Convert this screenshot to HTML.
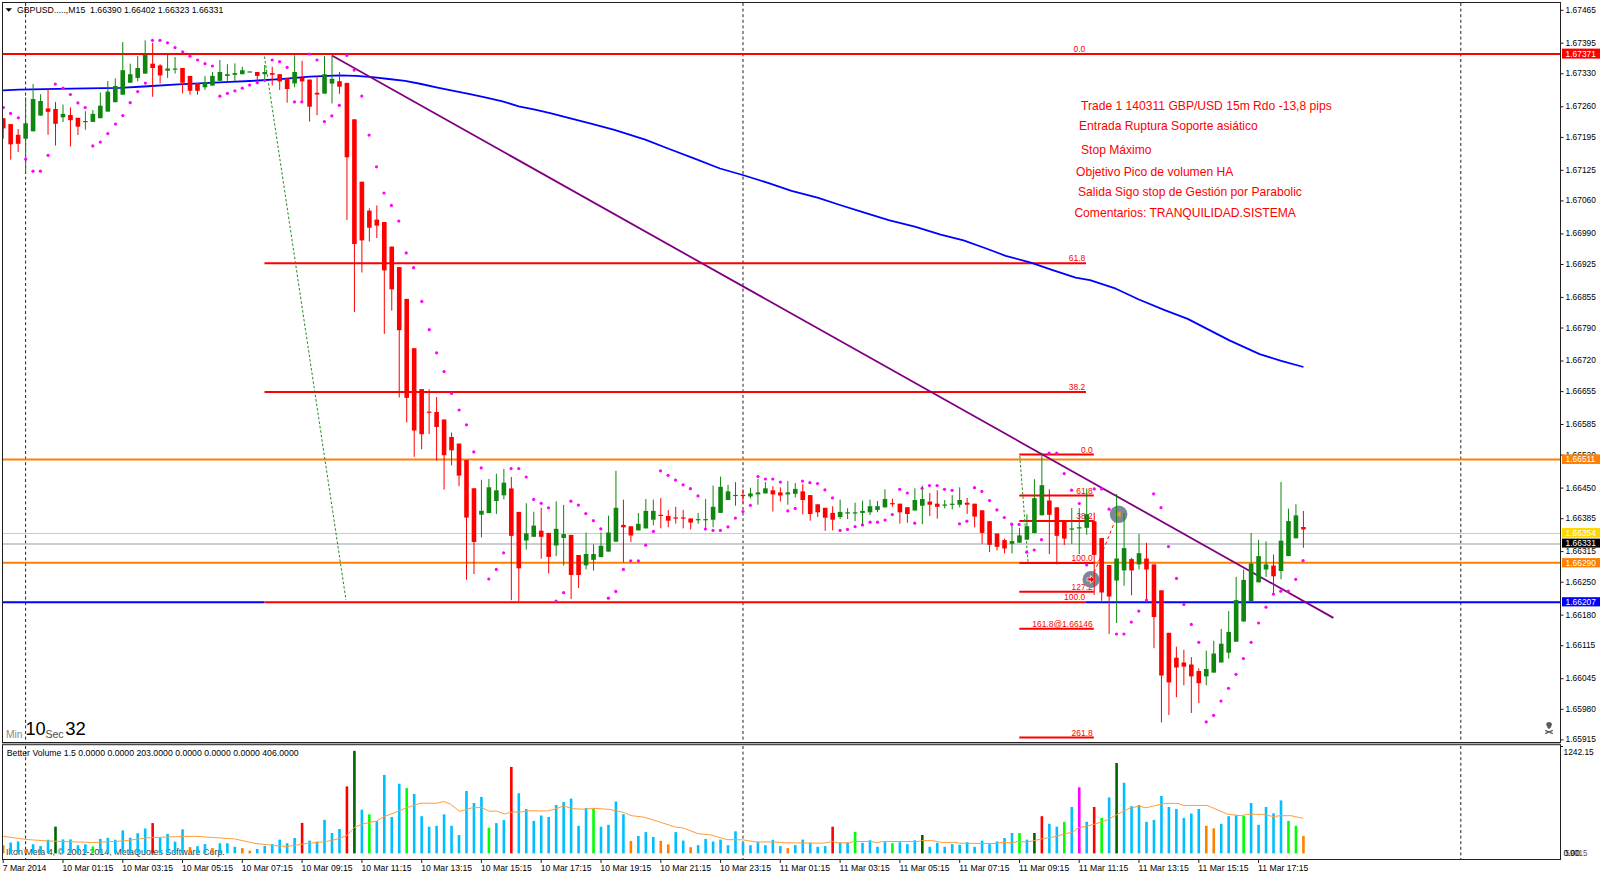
<!DOCTYPE html><html><head><meta charset="utf-8"><style>html,body{margin:0;padding:0;background:#fff;}svg{display:block}text{font-family:"Liberation Sans",sans-serif}</style></head><body>
<svg width="1600" height="876" viewBox="0 0 1600 876">
<rect x="0" y="0" width="1600" height="876" fill="#fff"/>
<defs><clipPath id="cm"><rect x="3" y="3" width="1557" height="739"/></clipPath><clipPath id="cv"><rect x="3" y="745" width="1557" height="114"/></clipPath></defs>
<line x1="25.6" y1="3" x2="25.6" y2="742" stroke="#222" stroke-width="1" stroke-dasharray="3,2.6"/>
<line x1="25.6" y1="746" x2="25.6" y2="859" stroke="#222" stroke-width="1" stroke-dasharray="3,2.6"/>
<line x1="743" y1="3" x2="743" y2="742" stroke="#222" stroke-width="1" stroke-dasharray="3,2.6"/>
<line x1="743" y1="746" x2="743" y2="859" stroke="#222" stroke-width="1" stroke-dasharray="3,2.6"/>
<line x1="1460.8" y1="3" x2="1460.8" y2="742" stroke="#222" stroke-width="1" stroke-dasharray="3,2.6"/>
<line x1="1460.8" y1="746" x2="1460.8" y2="859" stroke="#222" stroke-width="1" stroke-dasharray="3,2.6"/>
<g clip-path="url(#cm)">
<line x1="3" y1="54" x2="1560" y2="54" stroke="#ff0000" stroke-width="2"/>
<line x1="3" y1="459.5" x2="1560" y2="459.5" stroke="#ff8000" stroke-width="2"/>
<line x1="3" y1="533.5" x2="1560" y2="533.5" stroke="#ffd700" stroke-width="1.2"/>
<line x1="3" y1="544" x2="1560" y2="544" stroke="#b8bcc4" stroke-width="1.6"/>
<line x1="3" y1="562.8" x2="1560" y2="562.8" stroke="#ff8000" stroke-width="2"/>
<line x1="3" y1="602.2" x2="264.5" y2="602.2" stroke="#0000ff" stroke-width="2"/>
<line x1="1086" y1="602.2" x2="1560" y2="602.2" stroke="#0000ff" stroke-width="2"/>
<line x1="264.5" y1="54" x2="1086" y2="54" stroke="#ff0000" stroke-width="2"/>
<line x1="264.5" y1="263.3" x2="1086" y2="263.3" stroke="#ff0000" stroke-width="2"/>
<line x1="264.5" y1="392" x2="1086" y2="392" stroke="#ff0000" stroke-width="2"/>
<line x1="264.5" y1="602.2" x2="1086" y2="602.2" stroke="#ff0000" stroke-width="2"/>
<line x1="1019.3" y1="454.6" x2="1093.8" y2="454.6" stroke="#ff0000" stroke-width="2"/>
<line x1="1019.3" y1="495.6" x2="1093.8" y2="495.6" stroke="#ff0000" stroke-width="2"/>
<line x1="1019.3" y1="521" x2="1093.8" y2="521" stroke="#ff0000" stroke-width="2"/>
<line x1="1019.3" y1="563" x2="1093.8" y2="563" stroke="#ff0000" stroke-width="2"/>
<line x1="1019.3" y1="591.8" x2="1093.8" y2="591.8" stroke="#ff0000" stroke-width="2"/>
<line x1="1019.3" y1="628.8" x2="1093.8" y2="628.8" stroke="#ff0000" stroke-width="2"/>
<line x1="1019.3" y1="737.5" x2="1093.8" y2="737.5" stroke="#ff0000" stroke-width="2"/>
<line x1="264.5" y1="56.5" x2="346" y2="600" stroke="#1e8c1e" stroke-width="1" stroke-dasharray="2.5,2"/>
<line x1="1019.8" y1="456" x2="1028" y2="562" stroke="#1e8c1e" stroke-width="1" stroke-dasharray="2.5,2"/>
<polyline fill="none" stroke="#0000ff" stroke-width="1.8" stroke-linejoin="round" points="3,90.3 18.8,89.6 71,88.7 119.8,87.9 144,86.5 178,84.4 230,81.9 250,81 280,79.1 310,76.6 340,75.4 356.2,75.8 372.5,77.1 388.7,79 405,80.8 421.2,84 437.5,87.6 453.7,90.9 470,94.1 486.2,97.7 502.5,101.4 518.7,106.3 535,109.6 551.2,113.3 567.5,117.7 590,123.3 614.4,129.8 645.2,139.6 668,148.5 694,158.4 720,168.5 742.7,175 768.7,183.1 791.5,190.9 817.5,197.7 840,205 864.4,212.7 888.7,220.1 914.7,226.6 940.7,234.7 963.5,240.4 986.2,248.5 1005.7,255.8 1031.7,262.8 1051.2,269.6 1075.6,277.7 1090,280.1 1115.9,288.7 1138.9,299.5 1164.7,310.2 1187.7,318.9 1229.4,340.4 1259.6,354.1 1281.2,360.8 1303.5,367"/>
<line x1="331.9" y1="55.5" x2="1333.4" y2="617.9" stroke="#800080" stroke-width="1.8"/>
<text transform="translate(1085.30,52.20) scale(0.944,1)" font-size="9.0" fill="#ff0000" text-anchor="end" >0.0</text>
<text transform="translate(1085.30,261.30) scale(0.944,1)" font-size="9.0" fill="#ff0000" text-anchor="end" >61.8</text>
<text transform="translate(1085.30,390.30) scale(0.944,1)" font-size="9.0" fill="#ff0000" text-anchor="end" >38.2</text>
<text transform="translate(1085.30,600.30) scale(0.944,1)" font-size="9.0" fill="#ff0000" text-anchor="end" >100.0</text>
<text transform="translate(1092.80,452.80) scale(0.944,1)" font-size="9.0" fill="#ff0000" text-anchor="end" >0.0</text>
<text transform="translate(1092.80,493.80) scale(0.944,1)" font-size="9.0" fill="#ff0000" text-anchor="end" >61.8</text>
<text transform="translate(1092.80,518.80) scale(0.944,1)" font-size="9.0" fill="#ff0000" text-anchor="end" >38.2</text>
<text transform="translate(1092.80,561.30) scale(0.944,1)" font-size="9.0" fill="#ff0000" text-anchor="end" >100.0</text>
<text transform="translate(1092.80,589.80) scale(0.944,1)" font-size="9.0" fill="#ff0000" text-anchor="end" >127.2</text>
<text transform="translate(1092.80,626.80) scale(0.944,1)" font-size="9.0" fill="#ff0000" text-anchor="end" >161.8@1.66146</text>
<text transform="translate(1092.80,735.80) scale(0.944,1)" font-size="9.0" fill="#ff0000" text-anchor="end" >261.8</text>
<line x1="1092" y1="578" x2="1117" y2="516" stroke="#ff0000" stroke-width="1" stroke-dasharray="3,3"/>
<circle cx="1118.6" cy="514.2" r="8.8" fill="#7d8896"/>
<path d="M1115.6 514.2 L1120.6 510.8 L1120.6 517.6 Z" fill="#e0a020"/>
<circle cx="1091" cy="579.4" r="8.5" fill="#7d8896"/>
<path d="M1087 578 L1090.5 578 L1090.5 575.6 L1095 579.4 L1090.5 583.2 L1090.5 580.8 L1087 580.8 Z" fill="#ff0000" stroke="#fff" stroke-width="0.7"/>
<rect x="2.70" y="118.2" width="1" height="20.5" fill="#ff0000"/>
<rect x="0.90" y="118.2" width="4.6" height="10.2" fill="#ff0000"/>
<rect x="10.17" y="124.1" width="1" height="35.5" fill="#ff0000"/>
<rect x="8.37" y="124.1" width="4.6" height="20.2" fill="#ff0000"/>
<rect x="17.64" y="129.0" width="1" height="22.9" fill="#ff0000"/>
<rect x="15.84" y="134.8" width="4.6" height="9.0" fill="#ff0000"/>
<rect x="25.12" y="97.3" width="1" height="75.7" fill="#108510"/>
<rect x="23.32" y="123.3" width="4.6" height="15.4" fill="#108510"/>
<rect x="32.59" y="84.1" width="1" height="47.2" fill="#108510"/>
<rect x="30.79" y="99.0" width="4.6" height="32.3" fill="#108510"/>
<rect x="40.06" y="94.2" width="1" height="21.4" fill="#108510"/>
<rect x="38.26" y="101.0" width="4.6" height="14.6" fill="#108510"/>
<rect x="47.54" y="88.7" width="1" height="46.1" fill="#ff0000"/>
<rect x="45.74" y="108.4" width="4.6" height="3.4" fill="#ff0000"/>
<rect x="55.01" y="101.9" width="1" height="43.6" fill="#ff0000"/>
<rect x="53.21" y="109.0" width="4.6" height="14.8" fill="#ff0000"/>
<rect x="62.48" y="104.5" width="1" height="17.5" fill="#108510"/>
<rect x="60.68" y="113.9" width="4.6" height="3.4" fill="#108510"/>
<rect x="69.95" y="107.5" width="1" height="38.9" fill="#ff0000"/>
<rect x="68.15" y="115.0" width="4.6" height="5.2" fill="#ff0000"/>
<rect x="77.42" y="117.8" width="1" height="17.2" fill="#ff0000"/>
<rect x="75.62" y="117.8" width="4.6" height="8.9" fill="#ff0000"/>
<rect x="84.90" y="111.3" width="1" height="18.5" fill="#108510"/>
<rect x="83.10" y="121.0" width="4.6" height="1.2" fill="#108510"/>
<rect x="92.37" y="110.0" width="1" height="11.9" fill="#108510"/>
<rect x="90.57" y="113.9" width="4.6" height="8.0" fill="#108510"/>
<rect x="99.84" y="92.5" width="1" height="25.7" fill="#108510"/>
<rect x="98.04" y="105.7" width="4.6" height="12.5" fill="#108510"/>
<rect x="107.32" y="81.0" width="1" height="30.6" fill="#108510"/>
<rect x="105.52" y="91.6" width="4.6" height="20.0" fill="#108510"/>
<rect x="114.79" y="78.4" width="1" height="23.8" fill="#108510"/>
<rect x="112.99" y="86.0" width="4.6" height="16.2" fill="#108510"/>
<rect x="122.26" y="42.0" width="1" height="52.7" fill="#108510"/>
<rect x="120.46" y="70.2" width="4.6" height="24.5" fill="#108510"/>
<rect x="129.73" y="63.7" width="1" height="19.0" fill="#108510"/>
<rect x="127.93" y="74.2" width="4.6" height="8.5" fill="#108510"/>
<rect x="137.20" y="56.0" width="1" height="25.4" fill="#108510"/>
<rect x="135.40" y="68.0" width="4.6" height="9.9" fill="#108510"/>
<rect x="144.68" y="40.3" width="1" height="33.3" fill="#108510"/>
<rect x="142.88" y="54.8" width="4.6" height="18.8" fill="#108510"/>
<rect x="152.15" y="42.8" width="1" height="54.0" fill="#ff0000"/>
<rect x="150.35" y="63.7" width="4.6" height="4.3" fill="#ff0000"/>
<rect x="159.62" y="64.2" width="1" height="19.2" fill="#ff0000"/>
<rect x="157.82" y="65.4" width="4.6" height="10.0" fill="#ff0000"/>
<rect x="167.09" y="54.8" width="1" height="23.1" fill="#108510"/>
<rect x="165.29" y="68.5" width="4.6" height="2.2" fill="#108510"/>
<rect x="174.57" y="57.0" width="1" height="16.6" fill="#108510"/>
<rect x="172.77" y="68.5" width="4.6" height="1.2" fill="#108510"/>
<rect x="182.04" y="68.0" width="1" height="25.3" fill="#ff0000"/>
<rect x="180.24" y="68.0" width="4.6" height="14.7" fill="#ff0000"/>
<rect x="189.51" y="75.9" width="1" height="18.8" fill="#ff0000"/>
<rect x="187.71" y="75.9" width="4.6" height="14.9" fill="#ff0000"/>
<rect x="196.98" y="83.1" width="1" height="11.6" fill="#ff0000"/>
<rect x="195.18" y="83.1" width="4.6" height="7.7" fill="#ff0000"/>
<rect x="204.46" y="75.9" width="1" height="14.0" fill="#108510"/>
<rect x="202.66" y="82.2" width="4.6" height="5.1" fill="#108510"/>
<rect x="211.93" y="72.0" width="1" height="13.6" fill="#108510"/>
<rect x="210.13" y="75.9" width="4.6" height="9.7" fill="#108510"/>
<rect x="219.40" y="60.0" width="1" height="20.8" fill="#108510"/>
<rect x="217.60" y="72.0" width="4.6" height="8.8" fill="#108510"/>
<rect x="226.88" y="64.2" width="1" height="16.6" fill="#108510"/>
<rect x="225.07" y="74.2" width="4.6" height="1.7" fill="#108510"/>
<rect x="234.35" y="63.4" width="1" height="17.4" fill="#108510"/>
<rect x="232.55" y="73.1" width="4.6" height="1.7" fill="#108510"/>
<rect x="241.82" y="66.8" width="1" height="7.4" fill="#108510"/>
<rect x="240.02" y="70.2" width="4.6" height="4.0" fill="#108510"/>
<rect x="247.49" y="71.4" width="4.6" height="1.2" fill="#108510"/>
<rect x="256.76" y="72.0" width="1" height="9.4" fill="#ff0000"/>
<rect x="254.96" y="72.0" width="4.6" height="3.9" fill="#ff0000"/>
<rect x="264.24" y="65.0" width="1" height="16.4" fill="#108510"/>
<rect x="262.44" y="72.0" width="4.6" height="2.2" fill="#108510"/>
<rect x="271.71" y="66.8" width="1" height="18.8" fill="#ff0000"/>
<rect x="269.91" y="73.1" width="4.6" height="1.7" fill="#ff0000"/>
<rect x="279.18" y="74.2" width="1" height="15.7" fill="#ff0000"/>
<rect x="277.38" y="74.2" width="4.6" height="7.2" fill="#ff0000"/>
<rect x="286.65" y="78.3" width="1" height="24.4" fill="#ff0000"/>
<rect x="284.85" y="78.3" width="4.6" height="10.7" fill="#ff0000"/>
<rect x="294.13" y="55.3" width="1" height="32.0" fill="#108510"/>
<rect x="292.33" y="72.0" width="4.6" height="11.4" fill="#108510"/>
<rect x="301.60" y="60.8" width="1" height="41.1" fill="#ff0000"/>
<rect x="299.80" y="77.9" width="4.6" height="3.5" fill="#ff0000"/>
<rect x="309.07" y="79.6" width="1" height="42.0" fill="#ff0000"/>
<rect x="307.27" y="79.6" width="4.6" height="27.1" fill="#ff0000"/>
<rect x="316.55" y="75.9" width="1" height="39.3" fill="#ff0000"/>
<rect x="314.75" y="92.8" width="4.6" height="1.7" fill="#ff0000"/>
<rect x="324.02" y="56.0" width="1" height="37.6" fill="#108510"/>
<rect x="322.22" y="74.2" width="4.6" height="19.4" fill="#108510"/>
<rect x="331.49" y="55.5" width="1" height="47.9" fill="#108510"/>
<rect x="329.69" y="78.8" width="4.6" height="4.8" fill="#108510"/>
<rect x="338.96" y="71.9" width="1" height="21.9" fill="#ff0000"/>
<rect x="337.16" y="81.2" width="4.6" height="5.5" fill="#ff0000"/>
<rect x="346.44" y="82.9" width="1" height="137.1" fill="#ff0000"/>
<rect x="344.63" y="82.9" width="4.6" height="74.4" fill="#ff0000"/>
<rect x="353.91" y="119.3" width="1" height="192.7" fill="#ff0000"/>
<rect x="352.11" y="119.3" width="4.6" height="124.7" fill="#ff0000"/>
<rect x="361.38" y="181.7" width="1" height="90.8" fill="#ff0000"/>
<rect x="359.58" y="181.7" width="4.6" height="58.7" fill="#ff0000"/>
<rect x="368.85" y="208.4" width="1" height="33.2" fill="#ff0000"/>
<rect x="367.05" y="210.7" width="4.6" height="17.0" fill="#ff0000"/>
<rect x="376.32" y="205.4" width="1" height="32.6" fill="#ff0000"/>
<rect x="374.52" y="219.6" width="4.6" height="6.0" fill="#ff0000"/>
<rect x="383.80" y="222.0" width="1" height="111.9" fill="#ff0000"/>
<rect x="382.00" y="222.0" width="4.6" height="48.4" fill="#ff0000"/>
<rect x="391.27" y="246.6" width="1" height="64.1" fill="#ff0000"/>
<rect x="389.47" y="246.6" width="4.6" height="42.7" fill="#ff0000"/>
<rect x="398.74" y="267.1" width="1" height="130.3" fill="#ff0000"/>
<rect x="396.94" y="267.1" width="4.6" height="63.1" fill="#ff0000"/>
<rect x="406.21" y="298.9" width="1" height="123.5" fill="#ff0000"/>
<rect x="404.41" y="298.9" width="4.6" height="99.0" fill="#ff0000"/>
<rect x="413.69" y="348.2" width="1" height="108.6" fill="#ff0000"/>
<rect x="411.89" y="348.2" width="4.6" height="82.3" fill="#ff0000"/>
<rect x="421.16" y="389.1" width="1" height="60.1" fill="#ff0000"/>
<rect x="419.36" y="389.1" width="4.6" height="45.1" fill="#ff0000"/>
<rect x="428.63" y="389.3" width="1" height="44.7" fill="#ff0000"/>
<rect x="426.83" y="411.6" width="4.6" height="1.2" fill="#ff0000"/>
<rect x="436.11" y="397.0" width="1" height="63.6" fill="#ff0000"/>
<rect x="434.31" y="412.0" width="4.6" height="15.0" fill="#ff0000"/>
<rect x="443.58" y="419.5" width="1" height="70.1" fill="#ff0000"/>
<rect x="441.78" y="419.5" width="4.6" height="35.7" fill="#ff0000"/>
<rect x="451.05" y="432.6" width="1" height="32.8" fill="#ff0000"/>
<rect x="449.25" y="437.0" width="4.6" height="13.3" fill="#ff0000"/>
<rect x="458.52" y="443.6" width="1" height="42.6" fill="#ff0000"/>
<rect x="456.72" y="443.6" width="4.6" height="32.0" fill="#ff0000"/>
<rect x="466.00" y="460.0" width="1" height="119.7" fill="#ff0000"/>
<rect x="464.19" y="460.0" width="4.6" height="57.6" fill="#ff0000"/>
<rect x="473.47" y="488.3" width="1" height="85.7" fill="#ff0000"/>
<rect x="471.67" y="488.3" width="4.6" height="53.7" fill="#ff0000"/>
<rect x="480.94" y="479.8" width="1" height="57.7" fill="#108510"/>
<rect x="479.14" y="510.8" width="4.6" height="3.9" fill="#108510"/>
<rect x="488.41" y="478.9" width="1" height="34.2" fill="#108510"/>
<rect x="486.61" y="487.3" width="4.6" height="25.8" fill="#108510"/>
<rect x="495.88" y="473.6" width="1" height="40.4" fill="#108510"/>
<rect x="494.08" y="490.3" width="4.6" height="10.7" fill="#108510"/>
<rect x="503.36" y="469.0" width="1" height="30.4" fill="#108510"/>
<rect x="501.56" y="482.7" width="4.6" height="12.6" fill="#108510"/>
<rect x="510.83" y="477.0" width="1" height="123.2" fill="#ff0000"/>
<rect x="509.03" y="488.4" width="4.6" height="47.5" fill="#ff0000"/>
<rect x="518.30" y="511.9" width="1" height="89.5" fill="#ff0000"/>
<rect x="516.50" y="511.9" width="4.6" height="56.4" fill="#ff0000"/>
<rect x="525.78" y="503.3" width="1" height="46.3" fill="#108510"/>
<rect x="523.98" y="533.4" width="4.6" height="7.1" fill="#108510"/>
<rect x="533.25" y="511.7" width="1" height="25.1" fill="#108510"/>
<rect x="531.45" y="525.6" width="4.6" height="11.2" fill="#108510"/>
<rect x="540.72" y="507.8" width="1" height="50.9" fill="#ff0000"/>
<rect x="538.92" y="530.7" width="4.6" height="6.1" fill="#ff0000"/>
<rect x="548.19" y="532.9" width="1" height="40.6" fill="#ff0000"/>
<rect x="546.39" y="532.9" width="4.6" height="24.0" fill="#ff0000"/>
<rect x="555.67" y="501.5" width="1" height="54.7" fill="#108510"/>
<rect x="553.87" y="528.8" width="4.6" height="16.7" fill="#108510"/>
<rect x="563.14" y="504.9" width="1" height="60.7" fill="#108510"/>
<rect x="561.34" y="534.1" width="4.6" height="3.9" fill="#108510"/>
<rect x="570.61" y="534.9" width="1" height="64.3" fill="#ff0000"/>
<rect x="568.81" y="534.9" width="4.6" height="40.1" fill="#ff0000"/>
<rect x="578.08" y="555.0" width="1" height="32.9" fill="#ff0000"/>
<rect x="576.28" y="555.0" width="4.6" height="20.0" fill="#ff0000"/>
<rect x="585.56" y="532.5" width="1" height="36.9" fill="#108510"/>
<rect x="583.76" y="554.0" width="4.6" height="11.3" fill="#108510"/>
<rect x="593.03" y="544.4" width="1" height="26.1" fill="#108510"/>
<rect x="591.23" y="554.0" width="4.6" height="5.8" fill="#108510"/>
<rect x="600.50" y="532.5" width="1" height="24.6" fill="#108510"/>
<rect x="598.70" y="545.8" width="4.6" height="11.3" fill="#108510"/>
<rect x="607.97" y="515.6" width="1" height="36.0" fill="#108510"/>
<rect x="606.17" y="532.5" width="4.6" height="19.1" fill="#108510"/>
<rect x="615.45" y="470.8" width="1" height="70.9" fill="#108510"/>
<rect x="613.65" y="507.8" width="4.6" height="33.9" fill="#108510"/>
<rect x="622.92" y="499.6" width="1" height="62.7" fill="#ff0000"/>
<rect x="621.12" y="524.9" width="4.6" height="2.4" fill="#ff0000"/>
<rect x="630.39" y="526.3" width="1" height="15.8" fill="#ff0000"/>
<rect x="628.59" y="526.3" width="4.6" height="9.2" fill="#ff0000"/>
<rect x="637.86" y="513.0" width="1" height="17.4" fill="#108510"/>
<rect x="636.06" y="523.8" width="4.6" height="6.6" fill="#108510"/>
<rect x="645.34" y="499.0" width="1" height="29.4" fill="#108510"/>
<rect x="643.54" y="510.9" width="4.6" height="17.5" fill="#108510"/>
<rect x="652.81" y="499.6" width="1" height="25.7" fill="#108510"/>
<rect x="651.01" y="510.9" width="4.6" height="8.8" fill="#108510"/>
<rect x="660.28" y="498.1" width="1" height="30.3" fill="#ff0000"/>
<rect x="658.48" y="514.8" width="4.6" height="1.2" fill="#ff0000"/>
<rect x="667.75" y="509.9" width="1" height="17.4" fill="#ff0000"/>
<rect x="665.95" y="516.0" width="4.6" height="4.7" fill="#ff0000"/>
<rect x="675.23" y="506.8" width="1" height="16.8" fill="#ff0000"/>
<rect x="673.43" y="517.4" width="4.6" height="1.2" fill="#ff0000"/>
<rect x="682.70" y="509.9" width="1" height="18.5" fill="#ff0000"/>
<rect x="680.90" y="517.4" width="4.6" height="1.2" fill="#ff0000"/>
<rect x="690.17" y="518.5" width="1" height="10.9" fill="#ff0000"/>
<rect x="688.37" y="518.5" width="4.6" height="4.1" fill="#ff0000"/>
<rect x="697.64" y="512.9" width="1" height="10.9" fill="#108510"/>
<rect x="695.84" y="519.1" width="4.6" height="1.2" fill="#108510"/>
<rect x="705.12" y="499.0" width="1" height="31.4" fill="#108510"/>
<rect x="703.32" y="519.1" width="4.6" height="1.2" fill="#108510"/>
<rect x="712.59" y="485.6" width="1" height="41.7" fill="#108510"/>
<rect x="710.79" y="506.8" width="4.6" height="12.9" fill="#108510"/>
<rect x="720.06" y="476.6" width="1" height="36.3" fill="#108510"/>
<rect x="718.26" y="486.8" width="4.6" height="26.1" fill="#108510"/>
<rect x="727.53" y="484.8" width="1" height="15.2" fill="#108510"/>
<rect x="725.73" y="491.4" width="4.6" height="8.6" fill="#108510"/>
<rect x="735.01" y="482.1" width="1" height="23.6" fill="#108510"/>
<rect x="733.21" y="494.9" width="4.6" height="1.2" fill="#108510"/>
<rect x="742.48" y="489.3" width="1" height="14.4" fill="#ff0000"/>
<rect x="740.68" y="494.9" width="4.6" height="1.2" fill="#ff0000"/>
<rect x="749.95" y="487.7" width="1" height="10.9" fill="#108510"/>
<rect x="748.15" y="493.4" width="4.6" height="3.1" fill="#108510"/>
<rect x="757.42" y="479.0" width="1" height="25.7" fill="#108510"/>
<rect x="755.62" y="492.4" width="4.6" height="2.0" fill="#108510"/>
<rect x="764.90" y="482.1" width="1" height="11.3" fill="#108510"/>
<rect x="763.10" y="488.3" width="4.6" height="5.1" fill="#108510"/>
<rect x="772.37" y="486.2" width="1" height="25.3" fill="#ff0000"/>
<rect x="770.57" y="490.3" width="4.6" height="4.1" fill="#ff0000"/>
<rect x="779.84" y="487.3" width="1" height="14.3" fill="#ff0000"/>
<rect x="778.04" y="492.4" width="4.6" height="3.1" fill="#ff0000"/>
<rect x="787.31" y="481.1" width="1" height="23.6" fill="#108510"/>
<rect x="785.51" y="492.4" width="4.6" height="2.0" fill="#108510"/>
<rect x="794.79" y="483.1" width="1" height="14.4" fill="#108510"/>
<rect x="792.99" y="488.9" width="4.6" height="4.9" fill="#108510"/>
<rect x="802.26" y="484.2" width="1" height="30.2" fill="#ff0000"/>
<rect x="800.46" y="491.4" width="4.6" height="8.6" fill="#ff0000"/>
<rect x="809.73" y="495.1" width="1" height="25.6" fill="#ff0000"/>
<rect x="807.93" y="495.1" width="4.6" height="18.9" fill="#ff0000"/>
<rect x="817.20" y="504.3" width="1" height="12.7" fill="#ff0000"/>
<rect x="815.40" y="504.3" width="4.6" height="8.0" fill="#ff0000"/>
<rect x="824.68" y="507.8" width="1" height="23.0" fill="#ff0000"/>
<rect x="822.88" y="507.8" width="4.6" height="9.9" fill="#ff0000"/>
<rect x="832.15" y="506.2" width="1" height="24.2" fill="#ff0000"/>
<rect x="830.35" y="512.9" width="4.6" height="6.8" fill="#ff0000"/>
<rect x="839.62" y="499.6" width="1" height="19.5" fill="#108510"/>
<rect x="837.82" y="511.9" width="4.6" height="5.1" fill="#108510"/>
<rect x="847.09" y="508.2" width="1" height="10.9" fill="#108510"/>
<rect x="845.29" y="512.3" width="4.6" height="1.2" fill="#108510"/>
<rect x="854.57" y="502.7" width="1" height="18.5" fill="#108510"/>
<rect x="852.77" y="512.3" width="4.6" height="1.2" fill="#108510"/>
<rect x="862.04" y="500.6" width="1" height="23.6" fill="#108510"/>
<rect x="860.24" y="510.9" width="4.6" height="2.0" fill="#108510"/>
<rect x="869.51" y="499.6" width="1" height="15.4" fill="#108510"/>
<rect x="867.71" y="506.2" width="4.6" height="6.1" fill="#108510"/>
<rect x="876.98" y="501.0" width="1" height="11.3" fill="#108510"/>
<rect x="875.18" y="506.2" width="4.6" height="3.7" fill="#108510"/>
<rect x="884.46" y="489.3" width="1" height="18.1" fill="#108510"/>
<rect x="882.66" y="499.0" width="4.6" height="8.4" fill="#108510"/>
<rect x="891.93" y="498.6" width="1" height="8.2" fill="#ff0000"/>
<rect x="890.13" y="503.1" width="4.6" height="1.2" fill="#ff0000"/>
<rect x="899.40" y="503.7" width="1" height="19.9" fill="#ff0000"/>
<rect x="897.60" y="503.7" width="4.6" height="8.6" fill="#ff0000"/>
<rect x="906.87" y="507.2" width="1" height="15.6" fill="#ff0000"/>
<rect x="905.07" y="507.2" width="4.6" height="6.8" fill="#ff0000"/>
<rect x="914.35" y="488.3" width="1" height="22.2" fill="#108510"/>
<rect x="912.55" y="500.0" width="4.6" height="10.5" fill="#108510"/>
<rect x="921.82" y="485.6" width="1" height="38.6" fill="#108510"/>
<rect x="920.02" y="499.0" width="4.6" height="6.7" fill="#108510"/>
<rect x="929.29" y="493.0" width="1" height="23.0" fill="#ff0000"/>
<rect x="927.49" y="501.6" width="4.6" height="3.1" fill="#ff0000"/>
<rect x="936.76" y="490.3" width="1" height="28.4" fill="#ff0000"/>
<rect x="934.96" y="503.7" width="4.6" height="3.1" fill="#ff0000"/>
<rect x="944.24" y="500.0" width="1" height="8.4" fill="#108510"/>
<rect x="942.44" y="504.5" width="4.6" height="1.2" fill="#108510"/>
<rect x="951.71" y="495.1" width="1" height="14.3" fill="#108510"/>
<rect x="949.91" y="503.7" width="4.6" height="1.2" fill="#108510"/>
<rect x="959.18" y="487.3" width="1" height="20.1" fill="#108510"/>
<rect x="957.38" y="500.0" width="4.6" height="4.7" fill="#108510"/>
<rect x="966.65" y="497.9" width="1" height="16.1" fill="#ff0000"/>
<rect x="964.85" y="502.7" width="4.6" height="2.0" fill="#ff0000"/>
<rect x="974.13" y="503.7" width="1" height="23.6" fill="#ff0000"/>
<rect x="972.33" y="503.7" width="4.6" height="12.9" fill="#ff0000"/>
<rect x="981.60" y="510.3" width="1" height="33.5" fill="#ff0000"/>
<rect x="979.80" y="510.3" width="4.6" height="22.6" fill="#ff0000"/>
<rect x="989.07" y="521.2" width="1" height="30.8" fill="#ff0000"/>
<rect x="987.27" y="521.2" width="4.6" height="23.6" fill="#ff0000"/>
<rect x="996.54" y="533.5" width="1" height="17.0" fill="#ff0000"/>
<rect x="994.74" y="533.5" width="4.6" height="13.3" fill="#ff0000"/>
<rect x="1004.02" y="538.6" width="1" height="14.8" fill="#ff0000"/>
<rect x="1002.22" y="540.1" width="4.6" height="8.4" fill="#ff0000"/>
<rect x="1011.49" y="524.2" width="1" height="29.2" fill="#108510"/>
<rect x="1009.69" y="541.1" width="4.6" height="2.7" fill="#108510"/>
<rect x="1018.96" y="527.8" width="1" height="14.9" fill="#108510"/>
<rect x="1017.16" y="535.4" width="4.6" height="7.3" fill="#108510"/>
<rect x="1026.43" y="514.2" width="1" height="25.5" fill="#108510"/>
<rect x="1024.63" y="526.2" width="4.6" height="13.5" fill="#108510"/>
<rect x="1033.90" y="479.2" width="1" height="53.9" fill="#108510"/>
<rect x="1032.11" y="498.2" width="4.6" height="34.9" fill="#108510"/>
<rect x="1041.38" y="453.7" width="1" height="61.6" fill="#108510"/>
<rect x="1039.58" y="485.2" width="4.6" height="30.1" fill="#108510"/>
<rect x="1048.85" y="489.3" width="1" height="64.8" fill="#ff0000"/>
<rect x="1047.05" y="500.5" width="4.6" height="14.3" fill="#ff0000"/>
<rect x="1056.32" y="507.3" width="1" height="57.0" fill="#ff0000"/>
<rect x="1054.52" y="507.3" width="4.6" height="28.5" fill="#ff0000"/>
<rect x="1063.80" y="521.0" width="1" height="24.0" fill="#ff0000"/>
<rect x="1062.00" y="521.0" width="4.6" height="17.6" fill="#ff0000"/>
<rect x="1071.27" y="508.0" width="1" height="35.8" fill="#108510"/>
<rect x="1069.47" y="528.4" width="4.6" height="1.2" fill="#108510"/>
<rect x="1078.74" y="508.0" width="1" height="46.1" fill="#108510"/>
<rect x="1076.94" y="527.2" width="4.6" height="1.3" fill="#108510"/>
<rect x="1086.21" y="488.4" width="1" height="46.3" fill="#108510"/>
<rect x="1084.41" y="514.2" width="4.6" height="13.6" fill="#108510"/>
<rect x="1093.69" y="512.6" width="1" height="82.4" fill="#ff0000"/>
<rect x="1091.89" y="521.3" width="4.6" height="33.6" fill="#ff0000"/>
<rect x="1101.16" y="538.1" width="1" height="62.7" fill="#ff0000"/>
<rect x="1099.36" y="538.1" width="4.6" height="54.4" fill="#ff0000"/>
<rect x="1108.63" y="565.0" width="1" height="68.9" fill="#ff0000"/>
<rect x="1106.83" y="565.0" width="4.6" height="31.5" fill="#ff0000"/>
<rect x="1116.10" y="494.0" width="1" height="129.0" fill="#108510"/>
<rect x="1114.30" y="558.5" width="4.6" height="22.0" fill="#108510"/>
<rect x="1123.58" y="513.0" width="1" height="72.8" fill="#108510"/>
<rect x="1121.78" y="548.1" width="4.6" height="22.3" fill="#108510"/>
<rect x="1131.05" y="557.9" width="1" height="37.4" fill="#ff0000"/>
<rect x="1129.25" y="559.1" width="4.6" height="11.3" fill="#ff0000"/>
<rect x="1138.52" y="533.9" width="1" height="35.6" fill="#108510"/>
<rect x="1136.72" y="553.2" width="4.6" height="11.2" fill="#108510"/>
<rect x="1145.99" y="542.8" width="1" height="57.9" fill="#ff0000"/>
<rect x="1144.19" y="558.5" width="4.6" height="11.0" fill="#ff0000"/>
<rect x="1153.47" y="564.4" width="1" height="83.8" fill="#ff0000"/>
<rect x="1151.67" y="564.4" width="4.6" height="52.6" fill="#ff0000"/>
<rect x="1160.94" y="590.3" width="1" height="132.1" fill="#ff0000"/>
<rect x="1159.14" y="590.3" width="4.6" height="85.2" fill="#ff0000"/>
<rect x="1168.41" y="632.8" width="1" height="82.2" fill="#ff0000"/>
<rect x="1166.61" y="632.8" width="4.6" height="49.6" fill="#ff0000"/>
<rect x="1175.88" y="646.7" width="1" height="50.5" fill="#ff0000"/>
<rect x="1174.08" y="657.7" width="4.6" height="9.8" fill="#ff0000"/>
<rect x="1183.36" y="649.7" width="1" height="35.6" fill="#ff0000"/>
<rect x="1181.56" y="662.5" width="4.6" height="4.1" fill="#ff0000"/>
<rect x="1190.83" y="657.1" width="1" height="55.9" fill="#ff0000"/>
<rect x="1189.03" y="664.5" width="4.6" height="11.9" fill="#ff0000"/>
<rect x="1198.30" y="668.4" width="1" height="34.7" fill="#ff0000"/>
<rect x="1196.50" y="671.0" width="4.6" height="12.2" fill="#ff0000"/>
<rect x="1205.77" y="650.6" width="1" height="34.7" fill="#108510"/>
<rect x="1203.97" y="669.0" width="4.6" height="7.4" fill="#108510"/>
<rect x="1213.25" y="640.8" width="1" height="31.8" fill="#108510"/>
<rect x="1211.45" y="653.5" width="4.6" height="19.1" fill="#108510"/>
<rect x="1220.72" y="628.9" width="1" height="33.6" fill="#108510"/>
<rect x="1218.92" y="643.7" width="4.6" height="18.8" fill="#108510"/>
<rect x="1228.19" y="611.1" width="1" height="47.5" fill="#108510"/>
<rect x="1226.39" y="631.9" width="4.6" height="20.8" fill="#108510"/>
<rect x="1235.66" y="576.9" width="1" height="64.8" fill="#108510"/>
<rect x="1233.86" y="600.1" width="4.6" height="41.6" fill="#108510"/>
<rect x="1243.13" y="569.5" width="1" height="52.0" fill="#108510"/>
<rect x="1241.34" y="579.9" width="4.6" height="41.6" fill="#108510"/>
<rect x="1250.61" y="533.0" width="1" height="68.3" fill="#108510"/>
<rect x="1248.81" y="563.6" width="4.6" height="37.7" fill="#108510"/>
<rect x="1258.08" y="539.8" width="1" height="42.5" fill="#108510"/>
<rect x="1256.28" y="556.1" width="4.6" height="26.2" fill="#108510"/>
<rect x="1265.55" y="541.3" width="1" height="35.6" fill="#108510"/>
<rect x="1263.75" y="564.4" width="4.6" height="5.1" fill="#108510"/>
<rect x="1273.03" y="554.6" width="1" height="38.7" fill="#ff0000"/>
<rect x="1271.23" y="565.6" width="4.6" height="10.7" fill="#ff0000"/>
<rect x="1280.50" y="481.9" width="1" height="97.4" fill="#108510"/>
<rect x="1278.70" y="540.7" width="4.6" height="30.3" fill="#108510"/>
<rect x="1287.97" y="508.6" width="1" height="47.5" fill="#108510"/>
<rect x="1286.17" y="521.1" width="4.6" height="35.0" fill="#108510"/>
<rect x="1295.44" y="504.2" width="1" height="34.1" fill="#108510"/>
<rect x="1293.64" y="515.4" width="4.6" height="22.9" fill="#108510"/>
<rect x="1302.91" y="511.0" width="1" height="36.8" fill="#ff0000"/>
<rect x="1301.12" y="527.0" width="4.6" height="2.4" fill="#ff0000"/>
<circle cx="3.4" cy="107.5" r="1.6" fill="#ff00ff"/>
<circle cx="10.6" cy="113.4" r="1.6" fill="#ff00ff"/>
<circle cx="18.3" cy="117.8" r="1.6" fill="#ff00ff"/>
<circle cx="25.7" cy="159.2" r="1.6" fill="#ff00ff"/>
<circle cx="33" cy="171.2" r="1.6" fill="#ff00ff"/>
<circle cx="40.4" cy="171.2" r="1.6" fill="#ff00ff"/>
<circle cx="48.1" cy="155.3" r="1.6" fill="#ff00ff"/>
<circle cx="55.3" cy="84.1" r="1.6" fill="#ff00ff"/>
<circle cx="63" cy="88.2" r="1.6" fill="#ff00ff"/>
<circle cx="70.4" cy="94.5" r="1.6" fill="#ff00ff"/>
<circle cx="77.9" cy="102.9" r="1.6" fill="#ff00ff"/>
<circle cx="85.2" cy="107.5" r="1.6" fill="#ff00ff"/>
<circle cx="92.8" cy="145.9" r="1.6" fill="#ff00ff"/>
<circle cx="100.3" cy="142.1" r="1.6" fill="#ff00ff"/>
<circle cx="107.8" cy="133.6" r="1.6" fill="#ff00ff"/>
<circle cx="115.5" cy="124.1" r="1.6" fill="#ff00ff"/>
<circle cx="122.8" cy="115.6" r="1.6" fill="#ff00ff"/>
<circle cx="130.2" cy="102.7" r="1.6" fill="#ff00ff"/>
<circle cx="137.7" cy="91.6" r="1.6" fill="#ff00ff"/>
<circle cx="145.4" cy="83.1" r="1.6" fill="#ff00ff"/>
<circle cx="152.5" cy="40.3" r="1.6" fill="#ff00ff"/>
<circle cx="160" cy="40.3" r="1.6" fill="#ff00ff"/>
<circle cx="167.5" cy="42.8" r="1.6" fill="#ff00ff"/>
<circle cx="175" cy="47.6" r="1.6" fill="#ff00ff"/>
<circle cx="182.7" cy="51.9" r="1.6" fill="#ff00ff"/>
<circle cx="190" cy="56.2" r="1.6" fill="#ff00ff"/>
<circle cx="197.6" cy="60" r="1.6" fill="#ff00ff"/>
<circle cx="205" cy="63.7" r="1.6" fill="#ff00ff"/>
<circle cx="212.4" cy="66" r="1.6" fill="#ff00ff"/>
<circle cx="219.9" cy="96.2" r="1.6" fill="#ff00ff"/>
<circle cx="227.4" cy="93.3" r="1.6" fill="#ff00ff"/>
<circle cx="234.9" cy="90.8" r="1.6" fill="#ff00ff"/>
<circle cx="242.3" cy="88.2" r="1.6" fill="#ff00ff"/>
<circle cx="249.6" cy="85.1" r="1.6" fill="#ff00ff"/>
<circle cx="257.3" cy="82.7" r="1.6" fill="#ff00ff"/>
<circle cx="264.8" cy="80.5" r="1.6" fill="#ff00ff"/>
<circle cx="272.2" cy="60" r="1.6" fill="#ff00ff"/>
<circle cx="279.6" cy="61.7" r="1.6" fill="#ff00ff"/>
<circle cx="287.1" cy="67.3" r="1.6" fill="#ff00ff"/>
<circle cx="294.5" cy="101.9" r="1.6" fill="#ff00ff"/>
<circle cx="301.8" cy="101.9" r="1.6" fill="#ff00ff"/>
<circle cx="309.4" cy="54" r="1.6" fill="#ff00ff"/>
<circle cx="317" cy="60" r="1.6" fill="#ff00ff"/>
<circle cx="324.4" cy="121.6" r="1.6" fill="#ff00ff"/>
<circle cx="331.8" cy="115.9" r="1.6" fill="#ff00ff"/>
<circle cx="339.3" cy="105.3" r="1.6" fill="#ff00ff"/>
<circle cx="346.9" cy="55.5" r="1.6" fill="#ff00ff"/>
<circle cx="354.2" cy="70.1" r="1.6" fill="#ff00ff"/>
<circle cx="361.8" cy="96.1" r="1.6" fill="#ff00ff"/>
<circle cx="369.1" cy="135.1" r="1.6" fill="#ff00ff"/>
<circle cx="376.5" cy="166.8" r="1.6" fill="#ff00ff"/>
<circle cx="384" cy="193" r="1.6" fill="#ff00ff"/>
<circle cx="391.4" cy="205.4" r="1.6" fill="#ff00ff"/>
<circle cx="398.8" cy="221.1" r="1.6" fill="#ff00ff"/>
<circle cx="406.2" cy="252.9" r="1.6" fill="#ff00ff"/>
<circle cx="413.6" cy="267.7" r="1.6" fill="#ff00ff"/>
<circle cx="421.8" cy="301.4" r="1.6" fill="#ff00ff"/>
<circle cx="429.3" cy="329.7" r="1.6" fill="#ff00ff"/>
<circle cx="436.6" cy="352.8" r="1.6" fill="#ff00ff"/>
<circle cx="444.1" cy="371.6" r="1.6" fill="#ff00ff"/>
<circle cx="451.5" cy="393.5" r="1.6" fill="#ff00ff"/>
<circle cx="459.1" cy="410" r="1.6" fill="#ff00ff"/>
<circle cx="466.5" cy="424.8" r="1.6" fill="#ff00ff"/>
<circle cx="473.8" cy="451.9" r="1.6" fill="#ff00ff"/>
<circle cx="481.2" cy="467.9" r="1.6" fill="#ff00ff"/>
<circle cx="488.8" cy="579" r="1.6" fill="#ff00ff"/>
<circle cx="496.3" cy="569.4" r="1.6" fill="#ff00ff"/>
<circle cx="503.6" cy="552.8" r="1.6" fill="#ff00ff"/>
<circle cx="511.1" cy="468.6" r="1.6" fill="#ff00ff"/>
<circle cx="518.7" cy="468.6" r="1.6" fill="#ff00ff"/>
<circle cx="526.2" cy="477" r="1.6" fill="#ff00ff"/>
<circle cx="533.7" cy="499.4" r="1.6" fill="#ff00ff"/>
<circle cx="541.2" cy="503.3" r="1.6" fill="#ff00ff"/>
<circle cx="548.5" cy="507.8" r="1.6" fill="#ff00ff"/>
<circle cx="556.1" cy="601" r="1.6" fill="#ff00ff"/>
<circle cx="563.6" cy="592.7" r="1.6" fill="#ff00ff"/>
<circle cx="570.9" cy="501.2" r="1.6" fill="#ff00ff"/>
<circle cx="578.4" cy="505.1" r="1.6" fill="#ff00ff"/>
<circle cx="585.8" cy="513.6" r="1.6" fill="#ff00ff"/>
<circle cx="593.4" cy="520.7" r="1.6" fill="#ff00ff"/>
<circle cx="600.8" cy="528.8" r="1.6" fill="#ff00ff"/>
<circle cx="608.4" cy="598.2" r="1.6" fill="#ff00ff"/>
<circle cx="615.8" cy="591.4" r="1.6" fill="#ff00ff"/>
<circle cx="623.4" cy="569.4" r="1.6" fill="#ff00ff"/>
<circle cx="630.7" cy="560.8" r="1.6" fill="#ff00ff"/>
<circle cx="638.4" cy="560.8" r="1.6" fill="#ff00ff"/>
<circle cx="645.7" cy="545.2" r="1.6" fill="#ff00ff"/>
<circle cx="653.4" cy="531.4" r="1.6" fill="#ff00ff"/>
<circle cx="660.5" cy="470.8" r="1.6" fill="#ff00ff"/>
<circle cx="668.1" cy="475.3" r="1.6" fill="#ff00ff"/>
<circle cx="675.5" cy="480.1" r="1.6" fill="#ff00ff"/>
<circle cx="683.1" cy="484.8" r="1.6" fill="#ff00ff"/>
<circle cx="690.4" cy="488.7" r="1.6" fill="#ff00ff"/>
<circle cx="698" cy="495.9" r="1.6" fill="#ff00ff"/>
<circle cx="705.4" cy="529" r="1.6" fill="#ff00ff"/>
<circle cx="713" cy="530.4" r="1.6" fill="#ff00ff"/>
<circle cx="720.4" cy="530.4" r="1.6" fill="#ff00ff"/>
<circle cx="728" cy="526.9" r="1.6" fill="#ff00ff"/>
<circle cx="735.4" cy="518.1" r="1.6" fill="#ff00ff"/>
<circle cx="743" cy="511.5" r="1.6" fill="#ff00ff"/>
<circle cx="750.4" cy="505.3" r="1.6" fill="#ff00ff"/>
<circle cx="758" cy="476.6" r="1.6" fill="#ff00ff"/>
<circle cx="765.4" cy="479" r="1.6" fill="#ff00ff"/>
<circle cx="772.8" cy="479" r="1.6" fill="#ff00ff"/>
<circle cx="780.4" cy="482.1" r="1.6" fill="#ff00ff"/>
<circle cx="787.8" cy="510.9" r="1.6" fill="#ff00ff"/>
<circle cx="795.2" cy="508.4" r="1.6" fill="#ff00ff"/>
<circle cx="802.5" cy="481.1" r="1.6" fill="#ff00ff"/>
<circle cx="809.9" cy="482.7" r="1.6" fill="#ff00ff"/>
<circle cx="817.5" cy="483.6" r="1.6" fill="#ff00ff"/>
<circle cx="824.9" cy="489.9" r="1.6" fill="#ff00ff"/>
<circle cx="832.5" cy="497.9" r="1.6" fill="#ff00ff"/>
<circle cx="840.1" cy="530.4" r="1.6" fill="#ff00ff"/>
<circle cx="847.5" cy="529.4" r="1.6" fill="#ff00ff"/>
<circle cx="855.1" cy="526.7" r="1.6" fill="#ff00ff"/>
<circle cx="862.5" cy="524.9" r="1.6" fill="#ff00ff"/>
<circle cx="870.1" cy="522.2" r="1.6" fill="#ff00ff"/>
<circle cx="877.5" cy="522.2" r="1.6" fill="#ff00ff"/>
<circle cx="885.1" cy="520.1" r="1.6" fill="#ff00ff"/>
<circle cx="892.3" cy="514.6" r="1.6" fill="#ff00ff"/>
<circle cx="899.7" cy="489.3" r="1.6" fill="#ff00ff"/>
<circle cx="907.3" cy="493" r="1.6" fill="#ff00ff"/>
<circle cx="914.7" cy="523.2" r="1.6" fill="#ff00ff"/>
<circle cx="922.1" cy="488.3" r="1.6" fill="#ff00ff"/>
<circle cx="929.5" cy="485.6" r="1.6" fill="#ff00ff"/>
<circle cx="937.1" cy="485.6" r="1.6" fill="#ff00ff"/>
<circle cx="944.5" cy="489.3" r="1.6" fill="#ff00ff"/>
<circle cx="952.1" cy="490.3" r="1.6" fill="#ff00ff"/>
<circle cx="959.5" cy="523.8" r="1.6" fill="#ff00ff"/>
<circle cx="966.9" cy="521.2" r="1.6" fill="#ff00ff"/>
<circle cx="974.5" cy="487.7" r="1.6" fill="#ff00ff"/>
<circle cx="981.9" cy="491.4" r="1.6" fill="#ff00ff"/>
<circle cx="989.5" cy="500.6" r="1.6" fill="#ff00ff"/>
<circle cx="996.9" cy="509.9" r="1.6" fill="#ff00ff"/>
<circle cx="1004.3" cy="517.5" r="1.6" fill="#ff00ff"/>
<circle cx="1011.7" cy="524.2" r="1.6" fill="#ff00ff"/>
<circle cx="1019.1" cy="524.4" r="1.6" fill="#ff00ff"/>
<circle cx="1026.7" cy="552.2" r="1.6" fill="#ff00ff"/>
<circle cx="1034.2" cy="550" r="1.6" fill="#ff00ff"/>
<circle cx="1041.5" cy="539.7" r="1.6" fill="#ff00ff"/>
<circle cx="1049.1" cy="453.2" r="1.6" fill="#ff00ff"/>
<circle cx="1056.7" cy="453.2" r="1.6" fill="#ff00ff"/>
<circle cx="1064.2" cy="473.6" r="1.6" fill="#ff00ff"/>
<circle cx="1071.5" cy="490.2" r="1.6" fill="#ff00ff"/>
<circle cx="1079.3" cy="503.5" r="1.6" fill="#ff00ff"/>
<circle cx="1086.7" cy="565" r="1.6" fill="#ff00ff"/>
<circle cx="1094.3" cy="488.9" r="1.6" fill="#ff00ff"/>
<circle cx="1101.6" cy="488.9" r="1.6" fill="#ff00ff"/>
<circle cx="1109.1" cy="509.2" r="1.6" fill="#ff00ff"/>
<circle cx="1116.5" cy="634" r="1.6" fill="#ff00ff"/>
<circle cx="1123.9" cy="634" r="1.6" fill="#ff00ff"/>
<circle cx="1131.3" cy="622.1" r="1.6" fill="#ff00ff"/>
<circle cx="1138.8" cy="611.1" r="1.6" fill="#ff00ff"/>
<circle cx="1146.5" cy="600.1" r="1.6" fill="#ff00ff"/>
<circle cx="1153.6" cy="493.8" r="1.6" fill="#ff00ff"/>
<circle cx="1161" cy="507.7" r="1.6" fill="#ff00ff"/>
<circle cx="1168.5" cy="546.6" r="1.6" fill="#ff00ff"/>
<circle cx="1176.5" cy="578.4" r="1.6" fill="#ff00ff"/>
<circle cx="1183.9" cy="604.5" r="1.6" fill="#ff00ff"/>
<circle cx="1191.3" cy="624.4" r="1.6" fill="#ff00ff"/>
<circle cx="1198.8" cy="642.3" r="1.6" fill="#ff00ff"/>
<circle cx="1206.2" cy="721.9" r="1.6" fill="#ff00ff"/>
<circle cx="1213.6" cy="715.3" r="1.6" fill="#ff00ff"/>
<circle cx="1221" cy="701.1" r="1.6" fill="#ff00ff"/>
<circle cx="1228.5" cy="688.3" r="1.6" fill="#ff00ff"/>
<circle cx="1236" cy="674.3" r="1.6" fill="#ff00ff"/>
<circle cx="1243.4" cy="658.6" r="1.6" fill="#ff00ff"/>
<circle cx="1251.1" cy="642.3" r="1.6" fill="#ff00ff"/>
<circle cx="1258.6" cy="623" r="1.6" fill="#ff00ff"/>
<circle cx="1266" cy="607.2" r="1.6" fill="#ff00ff"/>
<circle cx="1273.4" cy="594.1" r="1.6" fill="#ff00ff"/>
<circle cx="1280.8" cy="591.2" r="1.6" fill="#ff00ff"/>
<circle cx="1288.3" cy="591.2" r="1.6" fill="#ff00ff"/>
<circle cx="1295.7" cy="579.3" r="1.6" fill="#ff00ff"/>
<circle cx="1303.1" cy="560.6" r="1.6" fill="#ff00ff"/>
</g>
<text x="1081" y="109.6" font-size="12.1" fill="#ff0000">Trade 1 140311 GBP/USD 15m Rdo -13,8 pips</text>
<text x="1079" y="130" font-size="12.1" fill="#ff0000">Entrada Ruptura Soporte asiático</text>
<text x="1081" y="154.4" font-size="12.1" fill="#ff0000">Stop Máximo</text>
<text x="1076" y="175.6" font-size="12.1" fill="#ff0000">Objetivo Pico de volumen HA</text>
<text x="1078" y="196" font-size="12.1" fill="#ff0000">Salida Sigo stop de Gestión por Parabolic</text>
<text x="1074.4" y="216.6" font-size="12.1" fill="#ff0000">Comentarios: TRANQUILIDAD.SISTEMA</text>
<path d="M5.5 8.2 L12 8.2 L8.75 11.8 Z" fill="#000"/>
<text transform="translate(17.00,13.00) scale(0.98,1)" font-size="8.9" fill="#000" text-anchor="start" xml:space="preserve">GBPUSD.....,M15  1.66390 1.66402 1.66323 1.66331</text>
<text x="6" y="737.5" font-size="10.3" fill="#8a8a8a">Min</text>
<text x="25.4" y="734.9" font-size="18.2" fill="#000">10</text>
<text x="45.4" y="737.5" font-size="10.6" fill="#4a4a4a">Sec</text>
<text x="65.3" y="734.9" font-size="18.5" fill="#000">32</text>
<path d="M1546.2 724.6 A2.85 2.7 0 0 1 1551.9 724.6 Q1551.6 727 1549.05 729.3 Q1546.5 727 1546.2 724.6 Z" fill="#5a5a60"/>
<path d="M1545.2 730.3 L1552.8 733.6 M1552.8 730.3 L1545.2 733.6" stroke="#5a5a60" stroke-width="1.3"/>
<text x="6" y="855.1" font-size="8.93" fill="#3a3a3a">Ikon Meta 4, © 2001-2014, MetaQuotes Software Corp.</text>
<g clip-path="url(#cv)">
<rect x="1.90" y="845.3" width="2.6" height="8.1" fill="#ff8000"/>
<rect x="9.37" y="842.5" width="2.6" height="10.9" fill="#00bfff"/>
<rect x="16.84" y="841.4" width="2.6" height="12.0" fill="#00bfff"/>
<rect x="24.32" y="849.5" width="2.6" height="3.9" fill="#ff8000"/>
<rect x="31.79" y="844.3" width="2.6" height="9.1" fill="#00bfff"/>
<rect x="39.26" y="846.0" width="2.6" height="7.4" fill="#00bfff"/>
<rect x="46.74" y="839.7" width="2.6" height="13.7" fill="#00bfff"/>
<rect x="54.21" y="826.6" width="2.6" height="26.8" fill="#006400"/>
<rect x="61.68" y="839.4" width="2.6" height="14.0" fill="#00bfff"/>
<rect x="69.15" y="839.4" width="2.6" height="14.0" fill="#00bfff"/>
<rect x="76.62" y="845.3" width="2.6" height="8.1" fill="#00bfff"/>
<rect x="84.10" y="844.3" width="2.6" height="9.1" fill="#00bfff"/>
<rect x="91.57" y="846.4" width="2.6" height="7.0" fill="#00ff00"/>
<rect x="99.04" y="838.9" width="2.6" height="14.5" fill="#00bfff"/>
<rect x="106.52" y="837.8" width="2.6" height="15.6" fill="#00bfff"/>
<rect x="113.99" y="839.7" width="2.6" height="13.7" fill="#00bfff"/>
<rect x="121.46" y="830.4" width="2.6" height="23.0" fill="#00bfff"/>
<rect x="128.93" y="837.8" width="2.6" height="15.6" fill="#00bfff"/>
<rect x="136.40" y="833.2" width="2.6" height="20.2" fill="#00bfff"/>
<rect x="143.88" y="828.5" width="2.6" height="24.9" fill="#00bfff"/>
<rect x="151.35" y="823.1" width="2.6" height="30.3" fill="#ff0000"/>
<rect x="158.82" y="837.8" width="2.6" height="15.6" fill="#00bfff"/>
<rect x="166.29" y="833.9" width="2.6" height="19.5" fill="#00bfff"/>
<rect x="173.77" y="841.7" width="2.6" height="11.7" fill="#00bfff"/>
<rect x="181.24" y="829.3" width="2.6" height="24.1" fill="#00bfff"/>
<rect x="188.71" y="847.1" width="2.6" height="6.3" fill="#ff8000"/>
<rect x="196.18" y="846.1" width="2.6" height="7.3" fill="#00bfff"/>
<rect x="203.66" y="844.1" width="2.6" height="9.3" fill="#00bfff"/>
<rect x="211.13" y="848.1" width="2.6" height="5.3" fill="#ff8000"/>
<rect x="218.60" y="843.2" width="2.6" height="10.2" fill="#00bfff"/>
<rect x="226.07" y="843.2" width="2.6" height="10.2" fill="#00bfff"/>
<rect x="233.55" y="846.8" width="2.6" height="6.6" fill="#00bfff"/>
<rect x="241.02" y="848.1" width="2.6" height="5.3" fill="#ff8000"/>
<rect x="248.49" y="850.7" width="2.6" height="2.7" fill="#ff8000"/>
<rect x="255.96" y="849.0" width="2.6" height="4.4" fill="#00bfff"/>
<rect x="263.44" y="845.9" width="2.6" height="7.5" fill="#00bfff"/>
<rect x="270.91" y="844.1" width="2.6" height="9.3" fill="#00bfff"/>
<rect x="278.38" y="839.6" width="2.6" height="13.8" fill="#00bfff"/>
<rect x="285.85" y="843.2" width="2.6" height="10.2" fill="#00bfff"/>
<rect x="293.33" y="838.0" width="2.6" height="15.4" fill="#00bfff"/>
<rect x="300.80" y="822.9" width="2.6" height="30.5" fill="#ff0000"/>
<rect x="308.27" y="840.6" width="2.6" height="12.8" fill="#00bfff"/>
<rect x="315.75" y="841.5" width="2.6" height="11.9" fill="#00bfff"/>
<rect x="323.22" y="819.9" width="2.6" height="33.5" fill="#00bfff"/>
<rect x="330.69" y="833.0" width="2.6" height="20.4" fill="#00bfff"/>
<rect x="338.16" y="829.0" width="2.6" height="24.4" fill="#00bfff"/>
<rect x="345.63" y="786.4" width="2.6" height="67.0" fill="#ff0000"/>
<rect x="353.11" y="750.9" width="2.6" height="102.5" fill="#006400"/>
<rect x="360.58" y="809.7" width="2.6" height="43.7" fill="#00bfff"/>
<rect x="368.05" y="814.3" width="2.6" height="39.1" fill="#00ff00"/>
<rect x="375.52" y="821.2" width="2.6" height="32.2" fill="#00bfff"/>
<rect x="383.00" y="774.9" width="2.6" height="78.5" fill="#00bfff"/>
<rect x="390.47" y="817.0" width="2.6" height="36.4" fill="#00bfff"/>
<rect x="397.94" y="783.7" width="2.6" height="69.7" fill="#00bfff"/>
<rect x="405.41" y="788.1" width="2.6" height="65.3" fill="#00ff00"/>
<rect x="412.89" y="794.0" width="2.6" height="59.4" fill="#00bfff"/>
<rect x="420.36" y="816.2" width="2.6" height="37.2" fill="#00bfff"/>
<rect x="427.83" y="826.7" width="2.6" height="26.7" fill="#00bfff"/>
<rect x="435.31" y="825.8" width="2.6" height="27.6" fill="#00bfff"/>
<rect x="442.78" y="814.3" width="2.6" height="39.1" fill="#00bfff"/>
<rect x="450.25" y="825.8" width="2.6" height="27.6" fill="#00bfff"/>
<rect x="457.72" y="835.0" width="2.6" height="18.4" fill="#00bfff"/>
<rect x="465.19" y="791.0" width="2.6" height="62.4" fill="#00bfff"/>
<rect x="472.67" y="803.0" width="2.6" height="50.4" fill="#00bfff"/>
<rect x="480.14" y="796.9" width="2.6" height="56.5" fill="#00bfff"/>
<rect x="487.61" y="827.7" width="2.6" height="25.7" fill="#00ff00"/>
<rect x="495.08" y="823.1" width="2.6" height="30.3" fill="#00bfff"/>
<rect x="502.56" y="820.1" width="2.6" height="33.3" fill="#00bfff"/>
<rect x="510.03" y="766.9" width="2.6" height="86.5" fill="#ff0000"/>
<rect x="517.50" y="793.2" width="2.6" height="60.2" fill="#00bfff"/>
<rect x="524.98" y="809.0" width="2.6" height="44.4" fill="#00bfff"/>
<rect x="532.45" y="820.9" width="2.6" height="32.5" fill="#00bfff"/>
<rect x="539.92" y="815.5" width="2.6" height="37.9" fill="#00bfff"/>
<rect x="547.39" y="817.0" width="2.6" height="36.4" fill="#00bfff"/>
<rect x="554.87" y="805.0" width="2.6" height="48.4" fill="#00bfff"/>
<rect x="562.34" y="802.1" width="2.6" height="51.3" fill="#00bfff"/>
<rect x="569.81" y="798.6" width="2.6" height="54.8" fill="#00bfff"/>
<rect x="577.28" y="825.8" width="2.6" height="27.6" fill="#00bfff"/>
<rect x="584.76" y="808.0" width="2.6" height="45.4" fill="#00bfff"/>
<rect x="592.23" y="808.4" width="2.6" height="45.0" fill="#00ff00"/>
<rect x="599.70" y="826.7" width="2.6" height="26.7" fill="#00bfff"/>
<rect x="607.17" y="824.8" width="2.6" height="28.6" fill="#00bfff"/>
<rect x="614.65" y="801.5" width="2.6" height="51.9" fill="#00bfff"/>
<rect x="622.12" y="814.2" width="2.6" height="39.2" fill="#00bfff"/>
<rect x="629.59" y="840.9" width="2.6" height="12.5" fill="#ff8000"/>
<rect x="637.06" y="836.0" width="2.6" height="17.4" fill="#00bfff"/>
<rect x="644.54" y="832.1" width="2.6" height="21.3" fill="#00bfff"/>
<rect x="652.01" y="837.0" width="2.6" height="16.4" fill="#00bfff"/>
<rect x="659.48" y="840.9" width="2.6" height="12.5" fill="#ff8000"/>
<rect x="666.95" y="844.4" width="2.6" height="9.0" fill="#ff8000"/>
<rect x="674.43" y="832.1" width="2.6" height="21.3" fill="#00bfff"/>
<rect x="681.90" y="840.6" width="2.6" height="12.8" fill="#00bfff"/>
<rect x="689.37" y="847.2" width="2.6" height="6.2" fill="#ff8000"/>
<rect x="696.84" y="845.2" width="2.6" height="8.2" fill="#00bfff"/>
<rect x="704.32" y="838.9" width="2.6" height="14.5" fill="#00bfff"/>
<rect x="711.79" y="841.5" width="2.6" height="11.9" fill="#00bfff"/>
<rect x="719.26" y="839.6" width="2.6" height="13.8" fill="#00bfff"/>
<rect x="726.73" y="845.2" width="2.6" height="8.2" fill="#00bfff"/>
<rect x="734.21" y="831.3" width="2.6" height="22.1" fill="#00bfff"/>
<rect x="741.68" y="842.4" width="2.6" height="11.0" fill="#00bfff"/>
<rect x="749.15" y="845.2" width="2.6" height="8.2" fill="#00bfff"/>
<rect x="756.62" y="842.2" width="2.6" height="11.2" fill="#00bfff"/>
<rect x="764.10" y="845.2" width="2.6" height="8.2" fill="#00bfff"/>
<rect x="771.57" y="839.8" width="2.6" height="13.6" fill="#00bfff"/>
<rect x="779.04" y="846.1" width="2.6" height="7.3" fill="#00bfff"/>
<rect x="786.51" y="848.1" width="2.6" height="5.3" fill="#ff8000"/>
<rect x="793.99" y="845.1" width="2.6" height="8.3" fill="#00bfff"/>
<rect x="801.46" y="839.6" width="2.6" height="13.8" fill="#00bfff"/>
<rect x="808.93" y="842.8" width="2.6" height="10.6" fill="#00bfff"/>
<rect x="816.40" y="846.8" width="2.6" height="6.6" fill="#00bfff"/>
<rect x="823.88" y="846.1" width="2.6" height="7.3" fill="#00bfff"/>
<rect x="831.35" y="826.7" width="2.6" height="26.7" fill="#ff0000"/>
<rect x="838.82" y="842.8" width="2.6" height="10.6" fill="#00bfff"/>
<rect x="846.29" y="842.8" width="2.6" height="10.6" fill="#00bfff"/>
<rect x="853.77" y="831.9" width="2.6" height="21.5" fill="#00ff00"/>
<rect x="861.24" y="842.8" width="2.6" height="10.6" fill="#00bfff"/>
<rect x="868.71" y="840.2" width="2.6" height="13.2" fill="#00bfff"/>
<rect x="876.18" y="846.8" width="2.6" height="6.6" fill="#00bfff"/>
<rect x="883.66" y="842.2" width="2.6" height="11.2" fill="#00bfff"/>
<rect x="891.13" y="843.2" width="2.6" height="10.2" fill="#00ff00"/>
<rect x="898.60" y="842.2" width="2.6" height="11.2" fill="#00bfff"/>
<rect x="906.07" y="844.1" width="2.6" height="9.3" fill="#00bfff"/>
<rect x="913.55" y="840.2" width="2.6" height="13.2" fill="#00bfff"/>
<rect x="921.02" y="835.0" width="2.6" height="18.4" fill="#006400"/>
<rect x="928.49" y="846.8" width="2.6" height="6.6" fill="#00bfff"/>
<rect x="935.96" y="842.8" width="2.6" height="10.6" fill="#00bfff"/>
<rect x="943.44" y="846.8" width="2.6" height="6.6" fill="#00bfff"/>
<rect x="950.91" y="844.1" width="2.6" height="9.3" fill="#00bfff"/>
<rect x="958.38" y="844.8" width="2.6" height="8.6" fill="#00bfff"/>
<rect x="965.85" y="842.2" width="2.6" height="11.2" fill="#00bfff"/>
<rect x="973.33" y="846.8" width="2.6" height="6.6" fill="#00bfff"/>
<rect x="980.80" y="840.6" width="2.6" height="12.8" fill="#00bfff"/>
<rect x="988.27" y="844.1" width="2.6" height="9.3" fill="#00bfff"/>
<rect x="995.74" y="841.5" width="2.6" height="11.9" fill="#00bfff"/>
<rect x="1003.22" y="838.0" width="2.6" height="15.4" fill="#00bfff"/>
<rect x="1010.69" y="833.0" width="2.6" height="20.4" fill="#00bfff"/>
<rect x="1018.16" y="833.0" width="2.6" height="20.4" fill="#00ff00"/>
<rect x="1025.63" y="839.6" width="2.6" height="13.8" fill="#00bfff"/>
<rect x="1033.11" y="833.0" width="2.6" height="20.4" fill="#006400"/>
<rect x="1040.58" y="816.2" width="2.6" height="37.2" fill="#ff0000"/>
<rect x="1048.05" y="823.8" width="2.6" height="29.6" fill="#00bfff"/>
<rect x="1055.52" y="826.7" width="2.6" height="26.7" fill="#00bfff"/>
<rect x="1063.00" y="821.8" width="2.6" height="31.6" fill="#00ff00"/>
<rect x="1070.47" y="807.0" width="2.6" height="46.4" fill="#00bfff"/>
<rect x="1077.94" y="787.3" width="2.6" height="66.1" fill="#ff00ff"/>
<rect x="1085.41" y="821.8" width="2.6" height="31.6" fill="#00bfff"/>
<rect x="1092.89" y="807.0" width="2.6" height="46.4" fill="#ff0000"/>
<rect x="1100.36" y="817.9" width="2.6" height="35.5" fill="#00ff00"/>
<rect x="1107.83" y="797.5" width="2.6" height="55.9" fill="#00bfff"/>
<rect x="1115.30" y="763.0" width="2.6" height="90.4" fill="#006400"/>
<rect x="1122.78" y="782.8" width="2.6" height="70.6" fill="#00bfff"/>
<rect x="1130.25" y="806.1" width="2.6" height="47.3" fill="#00bfff"/>
<rect x="1137.72" y="805.0" width="2.6" height="48.4" fill="#00bfff"/>
<rect x="1145.19" y="821.8" width="2.6" height="31.6" fill="#00bfff"/>
<rect x="1152.67" y="819.9" width="2.6" height="33.5" fill="#00bfff"/>
<rect x="1160.14" y="796.0" width="2.6" height="57.4" fill="#00bfff"/>
<rect x="1167.61" y="807.0" width="2.6" height="46.4" fill="#00bfff"/>
<rect x="1175.08" y="809.0" width="2.6" height="44.4" fill="#00bfff"/>
<rect x="1182.56" y="817.9" width="2.6" height="35.5" fill="#00bfff"/>
<rect x="1190.03" y="813.5" width="2.6" height="39.9" fill="#00bfff"/>
<rect x="1197.50" y="809.0" width="2.6" height="44.4" fill="#00bfff"/>
<rect x="1204.97" y="825.8" width="2.6" height="27.6" fill="#ff8000"/>
<rect x="1212.45" y="828.4" width="2.6" height="25.0" fill="#ff8000"/>
<rect x="1219.92" y="823.8" width="2.6" height="29.6" fill="#00bfff"/>
<rect x="1227.39" y="816.2" width="2.6" height="37.2" fill="#00bfff"/>
<rect x="1234.86" y="815.3" width="2.6" height="38.1" fill="#00bfff"/>
<rect x="1242.34" y="815.9" width="2.6" height="37.5" fill="#00ff00"/>
<rect x="1249.81" y="803.0" width="2.6" height="50.4" fill="#00bfff"/>
<rect x="1257.28" y="824.8" width="2.6" height="28.6" fill="#00bfff"/>
<rect x="1264.75" y="807.0" width="2.6" height="46.4" fill="#00bfff"/>
<rect x="1272.23" y="813.3" width="2.6" height="40.1" fill="#00bfff"/>
<rect x="1279.70" y="800.4" width="2.6" height="53.0" fill="#00bfff"/>
<rect x="1287.17" y="820.9" width="2.6" height="32.5" fill="#00ff00"/>
<rect x="1294.64" y="825.8" width="2.6" height="27.6" fill="#00ff00"/>
<rect x="1302.12" y="835.9" width="2.6" height="17.5" fill="#ff8000"/>
<polyline fill="none" stroke="#ff9c3a" stroke-width="1" points="3.1,836.3 25.6,839.4 46.6,840.9 93.2,842.5 124,840.9 147.5,837.8 178.6,836.6 195,836.3 214.7,837.6 234.4,838.9 254.1,843.2 273.8,845.5 286.9,846.5 306.6,843.5 326.3,841.5 339.5,838.5 347.3,835 354.6,827.1 363.1,823.8 376.2,821.2 384.1,816.6 395,812.6 405.8,808 420.2,803.2 437.3,803.2 443.8,801.5 450.4,804.1 459.6,811.3 471.4,808 480.6,807.4 489.8,811.3 496.4,811 504.2,813.9 512.1,812 521.3,812 527.9,810.7 547.6,811 554.2,809.3 563.4,806.1 573.8,808.7 585,809.3 592.9,808.3 608.6,809.3 624.4,812.6 631,815.6 644.1,817.2 657.2,821.2 675.6,827.1 683.5,828 697.9,833.6 711.1,835 726.8,839.6 742.6,839.8 755.7,841.9 774.1,841.9 785,842.8 823.3,843.2 832.5,841.5 837.8,842.8 849.6,842.8 853.5,841.5 871.9,841.5 877.2,842.8 882.4,841.5 917.9,841.5 921.8,840.6 932.3,840.6 941.5,842.4 956,842.4 958.6,843.2 980,843.5 997.3,843.5 1001.3,842.4 1013.1,842.8 1017,841.5 1027.5,841.9 1034.1,840.6 1043.3,838.5 1053.8,836.9 1066.9,833.4 1072.2,832.3 1078.7,827.7 1086.6,826.2 1095.8,823.8 1107.6,819.9 1116.8,814.6 1128.6,808.7 1139.1,806.1 1145.7,807.8 1158.8,804.8 1165.4,803.4 1178.1,803.4 1183.4,805.4 1207,805.4 1228,814.3 1241.2,815.7 1247.7,814.3 1262.2,814.3 1274,816.6 1279.2,815.7 1291.1,815.7 1302.9,818.3"/>
</g>
<text x="6.75" y="756.3" font-size="8.71" fill="#000">Better Volume 1.5 0.0000 0.0000 203.0000 0.0000 0.0000 0.0000 406.0000</text>
<rect x="2.5" y="2.5" width="1558" height="740" fill="none" stroke="#202020" stroke-width="1"/>
<line x1="2" y1="743.5" x2="1560.5" y2="743.5" stroke="#b0b0b0" stroke-width="1.2"/>
<rect x="2.5" y="744.7" width="1558" height="114.8" fill="none" stroke="#202020" stroke-width="1"/>
<line x1="1560.5" y1="10.3" x2="1563.5" y2="10.3" stroke="#202020" stroke-width="1"/>
<text transform="translate(1565.60,12.80) scale(0.942,1)" font-size="8.9" fill="#000" text-anchor="start" >1.67465</text>
<line x1="1560.5" y1="43.2" x2="1563.5" y2="43.2" stroke="#202020" stroke-width="1"/>
<text transform="translate(1565.60,45.75) scale(0.942,1)" font-size="8.9" fill="#000" text-anchor="start" >1.67395</text>
<line x1="1560.5" y1="73.8" x2="1563.5" y2="73.8" stroke="#202020" stroke-width="1"/>
<text transform="translate(1565.60,76.34) scale(0.942,1)" font-size="8.9" fill="#000" text-anchor="start" >1.67330</text>
<line x1="1560.5" y1="106.8" x2="1563.5" y2="106.8" stroke="#202020" stroke-width="1"/>
<text transform="translate(1565.60,109.29) scale(0.942,1)" font-size="8.9" fill="#000" text-anchor="start" >1.67260</text>
<line x1="1560.5" y1="137.4" x2="1563.5" y2="137.4" stroke="#202020" stroke-width="1"/>
<text transform="translate(1565.60,139.89) scale(0.942,1)" font-size="8.9" fill="#000" text-anchor="start" >1.67195</text>
<line x1="1560.5" y1="170.3" x2="1563.5" y2="170.3" stroke="#202020" stroke-width="1"/>
<text transform="translate(1565.60,172.84) scale(0.942,1)" font-size="8.9" fill="#000" text-anchor="start" >1.67125</text>
<line x1="1560.5" y1="200.9" x2="1563.5" y2="200.9" stroke="#202020" stroke-width="1"/>
<text transform="translate(1565.60,203.43) scale(0.942,1)" font-size="8.9" fill="#000" text-anchor="start" >1.67060</text>
<line x1="1560.5" y1="233.9" x2="1563.5" y2="233.9" stroke="#202020" stroke-width="1"/>
<text transform="translate(1565.60,236.38) scale(0.942,1)" font-size="8.9" fill="#000" text-anchor="start" >1.66990</text>
<line x1="1560.5" y1="264.5" x2="1563.5" y2="264.5" stroke="#202020" stroke-width="1"/>
<text transform="translate(1565.60,266.98) scale(0.942,1)" font-size="8.9" fill="#000" text-anchor="start" >1.66925</text>
<line x1="1560.5" y1="297.4" x2="1563.5" y2="297.4" stroke="#202020" stroke-width="1"/>
<text transform="translate(1565.60,299.93) scale(0.942,1)" font-size="8.9" fill="#000" text-anchor="start" >1.66855</text>
<line x1="1560.5" y1="328.0" x2="1563.5" y2="328.0" stroke="#202020" stroke-width="1"/>
<text transform="translate(1565.60,330.52) scale(0.942,1)" font-size="8.9" fill="#000" text-anchor="start" >1.66790</text>
<line x1="1560.5" y1="361.0" x2="1563.5" y2="361.0" stroke="#202020" stroke-width="1"/>
<text transform="translate(1565.60,363.47) scale(0.942,1)" font-size="8.9" fill="#000" text-anchor="start" >1.66720</text>
<line x1="1560.5" y1="391.6" x2="1563.5" y2="391.6" stroke="#202020" stroke-width="1"/>
<text transform="translate(1565.60,394.07) scale(0.942,1)" font-size="8.9" fill="#000" text-anchor="start" >1.66655</text>
<line x1="1560.5" y1="424.5" x2="1563.5" y2="424.5" stroke="#202020" stroke-width="1"/>
<text transform="translate(1565.60,427.02) scale(0.942,1)" font-size="8.9" fill="#000" text-anchor="start" >1.66585</text>
<line x1="1560.5" y1="455.1" x2="1563.5" y2="455.1" stroke="#202020" stroke-width="1"/>
<text transform="translate(1565.60,457.61) scale(0.942,1)" font-size="8.9" fill="#000" text-anchor="start" >1.66520</text>
<line x1="1560.5" y1="488.1" x2="1563.5" y2="488.1" stroke="#202020" stroke-width="1"/>
<text transform="translate(1565.60,490.56) scale(0.942,1)" font-size="8.9" fill="#000" text-anchor="start" >1.66450</text>
<line x1="1560.5" y1="518.7" x2="1563.5" y2="518.7" stroke="#202020" stroke-width="1"/>
<text transform="translate(1565.60,521.16) scale(0.942,1)" font-size="8.9" fill="#000" text-anchor="start" >1.66385</text>
<line x1="1560.5" y1="551.6" x2="1563.5" y2="551.6" stroke="#202020" stroke-width="1"/>
<text transform="translate(1565.60,554.11) scale(0.942,1)" font-size="8.9" fill="#000" text-anchor="start" >1.66315</text>
<line x1="1560.5" y1="582.2" x2="1563.5" y2="582.2" stroke="#202020" stroke-width="1"/>
<text transform="translate(1565.60,584.70) scale(0.942,1)" font-size="8.9" fill="#000" text-anchor="start" >1.66250</text>
<line x1="1560.5" y1="615.1" x2="1563.5" y2="615.1" stroke="#202020" stroke-width="1"/>
<text transform="translate(1565.60,617.65) scale(0.942,1)" font-size="8.9" fill="#000" text-anchor="start" >1.66180</text>
<line x1="1560.5" y1="645.7" x2="1563.5" y2="645.7" stroke="#202020" stroke-width="1"/>
<text transform="translate(1565.60,648.25) scale(0.942,1)" font-size="8.9" fill="#000" text-anchor="start" >1.66115</text>
<line x1="1560.5" y1="678.7" x2="1563.5" y2="678.7" stroke="#202020" stroke-width="1"/>
<text transform="translate(1565.60,681.19) scale(0.942,1)" font-size="8.9" fill="#000" text-anchor="start" >1.66045</text>
<line x1="1560.5" y1="709.3" x2="1563.5" y2="709.3" stroke="#202020" stroke-width="1"/>
<text transform="translate(1565.60,711.79) scale(0.942,1)" font-size="8.9" fill="#000" text-anchor="start" >1.65980</text>
<line x1="1560.5" y1="739.9" x2="1563.5" y2="739.9" stroke="#202020" stroke-width="1"/>
<text transform="translate(1565.60,742.39) scale(0.942,1)" font-size="8.9" fill="#000" text-anchor="start" >1.65915</text>
<rect x="1562" y="48.6" width="38" height="10.0" fill="#ff0000"/>
<text transform="translate(1565.60,56.70) scale(0.942,1)" font-size="8.9" fill="#fff" text-anchor="start" >1.67371</text>
<rect x="1562" y="454.4" width="38" height="9.600000000000023" fill="#ff8000"/>
<text transform="translate(1565.60,462.30) scale(0.942,1)" font-size="8.9" fill="#fff" text-anchor="start" >1.66511</text>
<rect x="1562" y="528" width="38" height="9.600000000000023" fill="#ffd700"/>
<text transform="translate(1565.60,535.90) scale(0.942,1)" font-size="8.9" fill="#fff" text-anchor="start" >1.66354</text>
<rect x="1562" y="538.6" width="38" height="9.0" fill="#000"/>
<text transform="translate(1565.60,546.20) scale(0.942,1)" font-size="8.9" fill="#fff" text-anchor="start" >1.66331</text>
<rect x="1562" y="558.1" width="38" height="9.299999999999955" fill="#ff8000"/>
<text transform="translate(1565.60,565.85) scale(0.942,1)" font-size="8.9" fill="#fff" text-anchor="start" >1.66290</text>
<rect x="1562" y="597.2" width="38" height="9.199999999999932" fill="#0000ff"/>
<text transform="translate(1565.60,604.90) scale(0.942,1)" font-size="8.9" fill="#fff" text-anchor="start" >1.66207</text>
<line x1="1560" y1="746.5" x2="1563" y2="746.5" stroke="#202020" stroke-width="1"/>
<text transform="translate(1563.50,755.00) scale(0.942,1)" font-size="8.9" fill="#000" text-anchor="start" >1242.15</text>
<text transform="translate(1563.60,856.20) scale(0.942,1)" font-size="8.9" fill="#000" text-anchor="start" >0.00</text>
<text transform="translate(1565.20,856.20) scale(0.9,1)" font-size="8.9" fill="#000" text-anchor="start" opacity="0.7">59015</text>
<line x1="3.2" y1="859" x2="3.2" y2="863" stroke="#202020" stroke-width="1"/>
<text transform="translate(2.70,871.20) scale(0.936,1)" font-size="9.25" fill="#000" text-anchor="start" >7 Mar 2014</text>
<line x1="63.0" y1="859" x2="63.0" y2="863" stroke="#202020" stroke-width="1"/>
<text transform="translate(62.48,871.20) scale(0.936,1)" font-size="9.25" fill="#000" text-anchor="start" >10 Mar 01:15</text>
<line x1="122.8" y1="859" x2="122.8" y2="863" stroke="#202020" stroke-width="1"/>
<text transform="translate(122.26,871.20) scale(0.936,1)" font-size="9.25" fill="#000" text-anchor="start" >10 Mar 03:15</text>
<line x1="182.5" y1="859" x2="182.5" y2="863" stroke="#202020" stroke-width="1"/>
<text transform="translate(182.04,871.20) scale(0.936,1)" font-size="9.25" fill="#000" text-anchor="start" >10 Mar 05:15</text>
<line x1="242.3" y1="859" x2="242.3" y2="863" stroke="#202020" stroke-width="1"/>
<text transform="translate(241.82,871.20) scale(0.936,1)" font-size="9.25" fill="#000" text-anchor="start" >10 Mar 07:15</text>
<line x1="302.1" y1="859" x2="302.1" y2="863" stroke="#202020" stroke-width="1"/>
<text transform="translate(301.60,871.20) scale(0.936,1)" font-size="9.25" fill="#000" text-anchor="start" >10 Mar 09:15</text>
<line x1="361.9" y1="859" x2="361.9" y2="863" stroke="#202020" stroke-width="1"/>
<text transform="translate(361.38,871.20) scale(0.936,1)" font-size="9.25" fill="#000" text-anchor="start" >10 Mar 11:15</text>
<line x1="421.7" y1="859" x2="421.7" y2="863" stroke="#202020" stroke-width="1"/>
<text transform="translate(421.16,871.20) scale(0.936,1)" font-size="9.25" fill="#000" text-anchor="start" >10 Mar 13:15</text>
<line x1="481.4" y1="859" x2="481.4" y2="863" stroke="#202020" stroke-width="1"/>
<text transform="translate(480.94,871.20) scale(0.936,1)" font-size="9.25" fill="#000" text-anchor="start" >10 Mar 15:15</text>
<line x1="541.2" y1="859" x2="541.2" y2="863" stroke="#202020" stroke-width="1"/>
<text transform="translate(540.72,871.20) scale(0.936,1)" font-size="9.25" fill="#000" text-anchor="start" >10 Mar 17:15</text>
<line x1="601.0" y1="859" x2="601.0" y2="863" stroke="#202020" stroke-width="1"/>
<text transform="translate(600.50,871.20) scale(0.936,1)" font-size="9.25" fill="#000" text-anchor="start" >10 Mar 19:15</text>
<line x1="660.8" y1="859" x2="660.8" y2="863" stroke="#202020" stroke-width="1"/>
<text transform="translate(660.28,871.20) scale(0.936,1)" font-size="9.25" fill="#000" text-anchor="start" >10 Mar 21:15</text>
<line x1="720.6" y1="859" x2="720.6" y2="863" stroke="#202020" stroke-width="1"/>
<text transform="translate(720.06,871.20) scale(0.936,1)" font-size="9.25" fill="#000" text-anchor="start" >10 Mar 23:15</text>
<line x1="780.3" y1="859" x2="780.3" y2="863" stroke="#202020" stroke-width="1"/>
<text transform="translate(779.84,871.20) scale(0.936,1)" font-size="9.25" fill="#000" text-anchor="start" >11 Mar 01:15</text>
<line x1="840.1" y1="859" x2="840.1" y2="863" stroke="#202020" stroke-width="1"/>
<text transform="translate(839.62,871.20) scale(0.936,1)" font-size="9.25" fill="#000" text-anchor="start" >11 Mar 03:15</text>
<line x1="899.9" y1="859" x2="899.9" y2="863" stroke="#202020" stroke-width="1"/>
<text transform="translate(899.40,871.20) scale(0.936,1)" font-size="9.25" fill="#000" text-anchor="start" >11 Mar 05:15</text>
<line x1="959.7" y1="859" x2="959.7" y2="863" stroke="#202020" stroke-width="1"/>
<text transform="translate(959.18,871.20) scale(0.936,1)" font-size="9.25" fill="#000" text-anchor="start" >11 Mar 07:15</text>
<line x1="1019.5" y1="859" x2="1019.5" y2="863" stroke="#202020" stroke-width="1"/>
<text transform="translate(1018.96,871.20) scale(0.936,1)" font-size="9.25" fill="#000" text-anchor="start" >11 Mar 09:15</text>
<line x1="1079.2" y1="859" x2="1079.2" y2="863" stroke="#202020" stroke-width="1"/>
<text transform="translate(1078.74,871.20) scale(0.936,1)" font-size="9.25" fill="#000" text-anchor="start" >11 Mar 11:15</text>
<line x1="1139.0" y1="859" x2="1139.0" y2="863" stroke="#202020" stroke-width="1"/>
<text transform="translate(1138.52,871.20) scale(0.936,1)" font-size="9.25" fill="#000" text-anchor="start" >11 Mar 13:15</text>
<line x1="1198.8" y1="859" x2="1198.8" y2="863" stroke="#202020" stroke-width="1"/>
<text transform="translate(1198.30,871.20) scale(0.936,1)" font-size="9.25" fill="#000" text-anchor="start" >11 Mar 15:15</text>
<line x1="1258.6" y1="859" x2="1258.6" y2="863" stroke="#202020" stroke-width="1"/>
<text transform="translate(1258.08,871.20) scale(0.936,1)" font-size="9.25" fill="#000" text-anchor="start" >11 Mar 17:15</text>
</svg></body></html>
